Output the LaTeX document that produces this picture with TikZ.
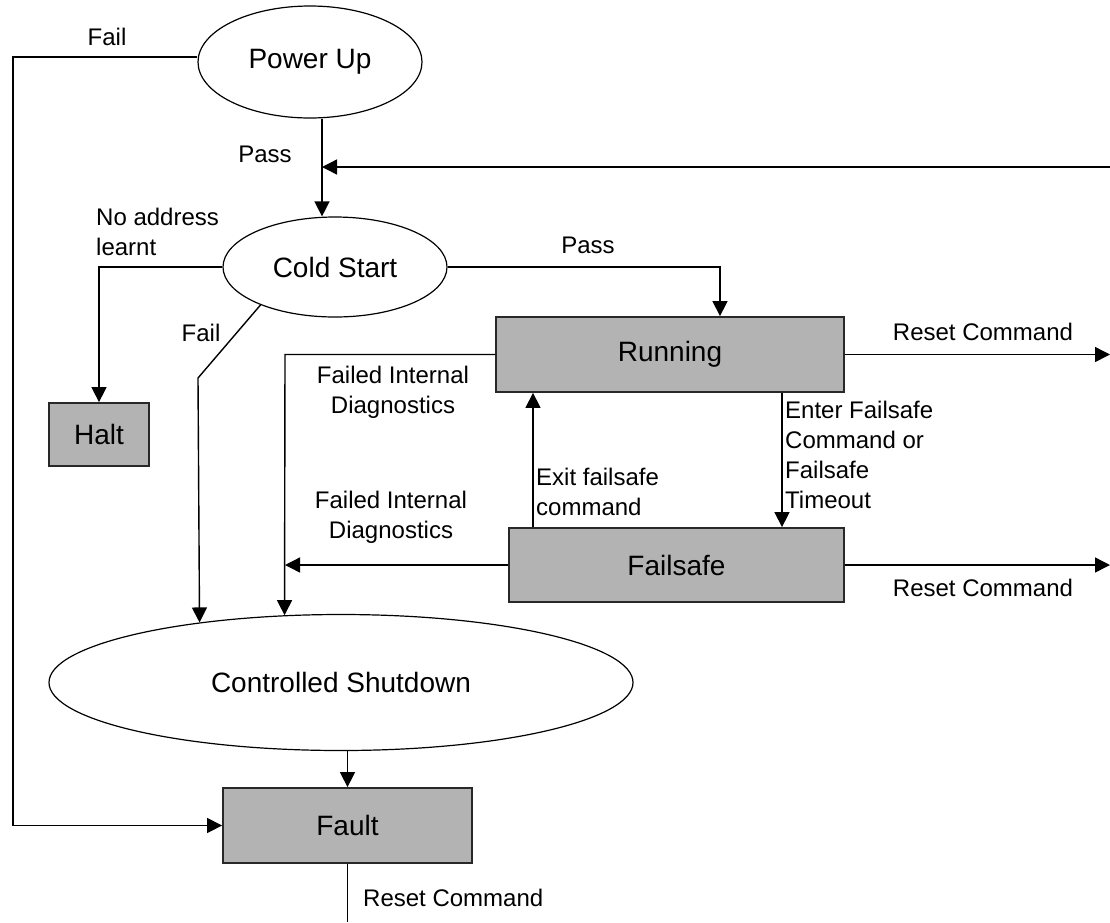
\documentclass[tikz,border=0pt]{standalone}
\usepackage{fontspec}
\setmainfont{Liberation Sans}
\usetikzlibrary{shapes.geometric,arrows.meta}
\definecolor{boxfill}{RGB}{179,179,179}
\definecolor{boxline}{RGB}{40,40,40}
\tikzset{
  statebox/.style={draw=boxline, line width=1.8pt, fill=boxfill, inner sep=0pt,
    font=\fontsize{28}{32}\selectfont},
  stateoval/.style={ellipse, draw=black, line width=1.2pt, fill=white, inner sep=0pt,
    font=\fontsize{28}{32}\selectfont},
  edgelabel/.style={inner sep=0pt, font=\fontsize{24}{30}\selectfont},
  wire/.style={line width=1.4pt, draw=black},
  arrowwire/.style={wire, -{Triangle[length=15pt,width=15pt]}}
}
\begin{document}
\begin{tikzpicture}[x=1pt,y=-1pt]
\useasboundingbox (0,0) rectangle (1110,922);

% states
\node[stateoval, minimum width=224pt, minimum height=112pt] (pu) at (310,62) {Power Up};
\node[stateoval, minimum width=224pt, minimum height=100pt] (cs) at (335,267) {Cold Start};
\node[statebox, minimum width=100pt, minimum height=63pt] (halt) at (99,434.5) {Halt};
\node[statebox, minimum width=348pt, minimum height=75pt] (run) at (670,354.5) {Running};
\node[statebox, minimum width=335pt, minimum height=74pt] (fs) at (676.5,565) {Failsafe};
\node[stateoval, minimum width=584pt, minimum height=136pt] (csd) at (341,682.5) {Controlled Shutdown};
\node[statebox, minimum width=249pt, minimum height=75pt] (fault) at (347.5,825.5) {Fault};

% free ends and bends
\coordinate (failx) at (13,57);
\coordinate (reentry) at (1110,167);
\coordinate (runout) at (1110,354.5);
\coordinate (fsout) at (1110,565);
\coordinate (faultout) at (347.5,922);
\coordinate (csbend) at (198,378);
\coordinate (diagx) at (285,354.5);

% Power Up transitions
\draw[arrowwire] ([yshift=5pt]pu.west) -- (failx) |- (fault.west);
\draw[arrowwire] (pu.south -| 322,0) -- (cs.north -| 322,0);
\draw[arrowwire] (reentry) -- (322,167);

% Cold Start transitions
\draw[arrowwire] (cs.west) -| (halt.north);
\draw[arrowwire] (cs.east) -| ([xshift=50pt]run.north);
\draw[arrowwire] (cs.207) -- (csbend) -- (csd.157.5);

% Running / Failsafe transitions
\draw[arrowwire] (run.west) -- (diagx) -- (csd.130);
\draw[arrowwire] (fs.west) -- (fs.west -| diagx);
\draw[arrowwire] (run.south -| 782,0) -- (fs.north -| 782,0);
\draw[arrowwire] (fs.north -| 533,0) -- (run.south -| 533,0);
\draw[arrowwire] (run.east) -- (runout);
\draw[arrowwire] (fs.east) -- (fsout);

% Shutdown and fault
\draw[arrowwire] (csd.south -| fault.north) -- (fault.north);
\draw[wire] (fault.south) -- (faultout);

% labels
\node[edgelabel] (lfail1) at (107,37) {Fail};
\node[edgelabel] (lpass1) at (265,154) {Pass};
\node[edgelabel, anchor=west, align=left] (lnoaddr) at (96,232) {No address\\learnt};
\node[edgelabel] (lpass2) at (588,245) {Pass};
\node[edgelabel] (lfail2) at (201,333) {Fail};
\node[edgelabel] (lreset1) at (983,332) {Reset Command};
\node[edgelabel, align=center] (ldiag1) at (393,392) {Failed Internal\\Diagnostics};
\node[edgelabel, align=center] (ldiag2) at (391,517) {Failed Internal\\Diagnostics};
\node[edgelabel, anchor=west, align=left] (lenter) at (785,454.5) {Enter Failsafe\\Command or\\Failsafe\\Timeout};
\node[edgelabel, anchor=west, align=left] (lexit) at (536,491.5) {Exit failsafe\\command};
\node[edgelabel] (lreset2) at (983,588) {Reset Command};
\node[edgelabel, anchor=west] (lreset3) at (363,898) {Reset Command};
\end{tikzpicture}
\end{document}
